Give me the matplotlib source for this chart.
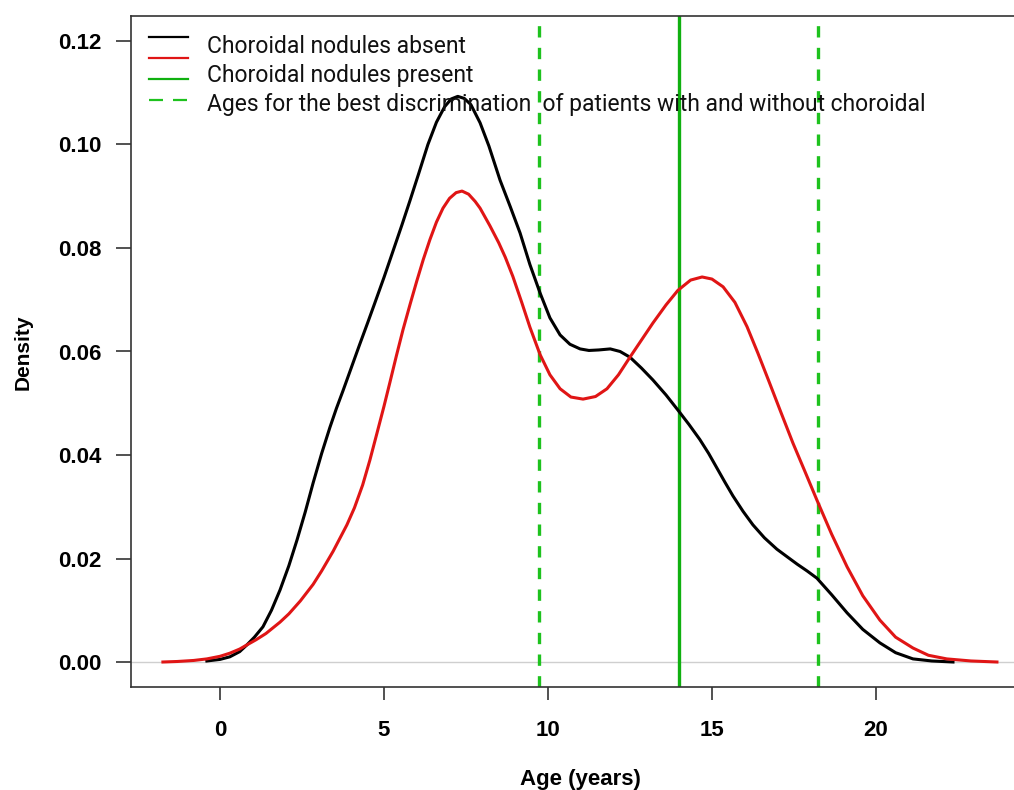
import matplotlib
matplotlib.use("Agg")
import matplotlib.pyplot as plt
from matplotlib.lines import Line2D

# density curve readings (age in years, density)
age_absent = [-0.40, 0.00, 0.30, 0.60, 0.82, 1.05, 1.31, 1.57, 1.83, 2.10, 2.35, 2.60,
              2.84, 3.10, 3.35, 3.55, 3.75, 4.00, 4.25, 4.50, 4.70, 5.00, 5.27, 5.55,
              5.79, 6.05, 6.34, 6.60, 6.85, 7.05, 7.25, 7.45, 7.65, 7.93, 8.20, 8.54,
              8.85, 9.15, 9.45, 9.76, 10.06, 10.37, 10.67, 10.98, 11.25, 11.55, 11.90,
              12.20, 12.50, 12.85, 13.20, 13.60, 13.96, 14.30, 14.63, 14.90, 15.15,
              15.40, 15.64, 15.95, 16.25, 16.60, 16.98, 17.30, 17.60, 17.90, 18.20,
              18.65, 19.12, 19.60, 20.12, 20.60, 21.13, 21.70, 22.35]
dens_absent = [0.0002, 0.0005, 0.0010, 0.0020, 0.0033, 0.0048, 0.0068, 0.0100, 0.0139,
               0.0186, 0.0236, 0.0290, 0.0346, 0.0403, 0.0453, 0.0490, 0.0524, 0.0568,
               0.0612, 0.0655, 0.0690, 0.0743, 0.0793, 0.0845, 0.0891, 0.0942, 0.1000,
               0.1043, 0.1073, 0.1088, 0.1093, 0.1089, 0.1077, 0.1042, 0.0997, 0.0931,
               0.0880, 0.0829, 0.0768, 0.0713, 0.0665, 0.0632, 0.0614, 0.0605, 0.0602,
               0.0603, 0.0605, 0.0600, 0.0589, 0.0568, 0.0545, 0.0516, 0.0487, 0.0459,
               0.0430, 0.0403, 0.0375, 0.0347, 0.0321, 0.0291, 0.0265, 0.0240, 0.0218,
               0.0203, 0.0189, 0.0176, 0.0162, 0.0130, 0.0095, 0.0063, 0.0037, 0.0018,
               0.0006, 0.0002, 0.0000]

age_present = [-1.74, -1.30, -0.80, -0.40, 0.00, 0.30, 0.60, 0.82, 1.10, 1.40, 1.83,
               2.10, 2.45, 2.84, 3.10, 3.45, 3.87, 4.10, 4.35, 4.57, 4.79, 5.00, 5.18,
               5.38, 5.58, 5.80, 6.00, 6.20, 6.40, 6.60, 6.80, 7.00, 7.20, 7.38, 7.58,
               7.78, 7.93, 8.23, 8.50, 8.70, 8.93, 9.20, 9.45, 9.76, 10.06, 10.37, 10.70,
               11.07, 11.45, 11.80, 12.15, 12.50, 12.85, 13.20, 13.60, 13.96, 14.35,
               14.70, 15.00, 15.34, 15.70, 16.07, 16.40, 16.74, 17.10, 17.47, 17.85,
               18.20, 18.65, 19.12, 19.60, 20.12, 20.60, 21.13, 21.60, 22.16, 22.90,
               23.69]
dens_present = [0.0000, 0.0001, 0.0003, 0.0006, 0.0011, 0.0017, 0.0025, 0.0033, 0.0043,
                0.0055, 0.0077, 0.0093, 0.0118, 0.0150, 0.0176, 0.0214, 0.0265, 0.0298,
                0.0342, 0.0390, 0.0443, 0.0494, 0.0540, 0.0592, 0.0642, 0.0692, 0.0736,
                0.0778, 0.0816, 0.0850, 0.0877, 0.0896, 0.0907, 0.0910, 0.0904, 0.0890,
                0.0877, 0.0843, 0.0810, 0.0782, 0.0745, 0.0695, 0.0647, 0.0594, 0.0555,
                0.0528, 0.0512, 0.0508, 0.0513, 0.0528, 0.0555, 0.0589, 0.0622, 0.0655,
                0.0690, 0.0718, 0.0738, 0.0744, 0.0740, 0.0725, 0.0695, 0.0648, 0.0597,
                0.0542, 0.0483, 0.0423, 0.0366, 0.0313, 0.0247, 0.0184, 0.0128, 0.0081,
                0.0048, 0.0027, 0.0013, 0.0006, 0.0002, 0.0000]

cutoff_age = 14.0
best_ages = [9.73, 18.23]

x_ticks = [0, 5, 10, 15, 20]
y_ticks = [0.00, 0.02, 0.04, 0.06, 0.08, 0.10, 0.12]

legend_labels = ["Choroidal nodules absent",
                 "Choroidal nodules present",
                 "Ages for the best discrimination  of patients with and without choroidal"]

GREEN = "#1ec21e"
RED = "#e01515"

fig = plt.figure(figsize=(10.14, 7.9), dpi=100)
ax = fig.add_axes([131 / 1014, 103 / 790, 1 - 131 / 1014, 671 / 790])

ax.axhline(0, color="#cfcfcf", lw=1.0, zorder=1)
ax.plot(age_absent, dens_absent, color="black", lw=2.2, zorder=3,
        solid_joinstyle="round")
ax.plot(age_present, dens_present, color=RED, lw=2.2, zorder=3,
        solid_joinstyle="round")
ax.axvline(cutoff_age, color="#10b010", lw=2.4, zorder=2)
for a in best_ages:
    ax.axvline(a, color=GREEN, lw=2.4, dashes=(3.4, 3.1), zorder=2)

ax.set_xlim(-2.713, 24.21)
ax.set_ylim(-0.00483, 0.12483)
ax.set_xticks(x_ticks)
ax.set_yticks(y_ticks)
ax.set_yticklabels([f"{v:.2f}" for v in y_ticks])

for s in ["left", "bottom", "top"]:
    ax.spines[s].set_linewidth(1.2)
    ax.spines[s].set_color("#333333")
ax.spines["right"].set_visible(False)

ax.tick_params(axis="x", length=9.5, width=1.2, color="#333333", pad=14)
ax.tick_params(axis="y", length=10.5, width=1.2, color="#333333", pad=11)
for lab in ax.get_xticklabels() + ax.get_yticklabels():
    lab.set_fontfamily("Liberation Sans")
    lab.set_fontweight("bold")
    lab.set_fontsize(16)

fig.text(23 / 1014, 1 - 352 / 790, "Density", rotation=90, ha="center", va="center",
         family="Liberation Sans", weight="bold", fontsize=15)
fig.text(580 / 1014, 5 / 790, "Age (years)", ha="center", va="baseline",
         family="Liberation Sans", weight="bold", fontsize=16)

# legend handles (4 lines), the legend text sits on its own rows
handles = [Line2D([], [], color="black", lw=1.6),
           Line2D([], [], color=RED, lw=1.6),
           Line2D([], [], color="#10b010", lw=1.6),
           Line2D([], [], color=GREEN, lw=1.6, dashes=(6.3, 4.5))]
leg = ax.legend(handles, [""] * 4, loc="upper left", frameon=False,
                bbox_to_anchor=(18 / 883, 1 - 13 / 671), borderaxespad=0,
                borderpad=0, handlelength=2.34, handletextpad=0,
                labelspacing=0.17, fontsize=12)

for i, t in enumerate(legend_labels):
    fig.text(207 / 1014, 1 - (53 + 29 * i) / 790, t, fontsize=16.5,
             family="Roboto", color="#111111", va="baseline")

fig.savefig("out.png", dpi=100)
